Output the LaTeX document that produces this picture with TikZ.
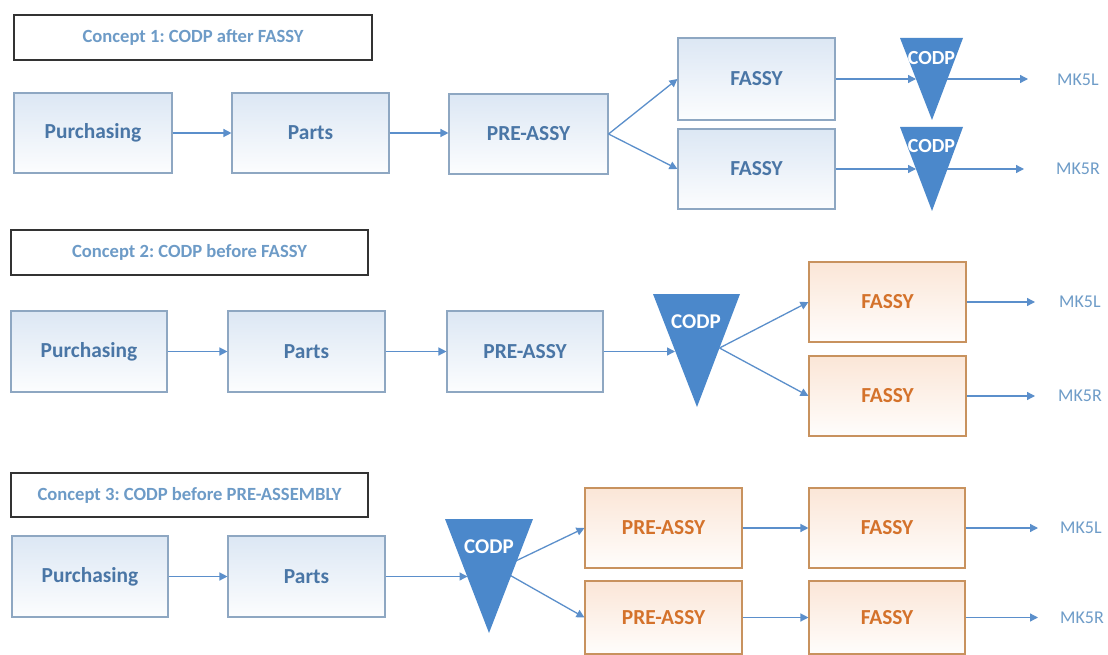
\documentclass[tikz,border=0pt]{standalone}
\usepackage{fontspec}
\setmainfont{Carlito}
\frenchspacing
\usetikzlibrary{arrows.meta,calc}

\definecolor{bborder}{HTML}{8EA7C2}
\definecolor{btint}{HTML}{DCE7F4}
\definecolor{btext}{HTML}{4A76A6}
\definecolor{oborder}{HTML}{C8925E}
\definecolor{otint}{HTML}{FBE6D7}
\definecolor{otext}{HTML}{D4722B}
\definecolor{ttext}{HTML}{6D9BC7}
\definecolor{tborder}{HTML}{333333}
\definecolor{flowblue}{HTML}{5B8FCB}
\definecolor{triblue}{HTML}{4B88CB}
\definecolor{mktext}{HTML}{6E9CC8}

% node shadings follow the page, so "top color" is the upper edge of a box
\tikzset{
  box/.style={draw=bborder, line width=1.1pt, minimum width=157pt, minimum height=80pt,
    inner sep=0pt, text=btext, font=\bfseries\fontsize{21.4}{24}\selectfont,
    top color=btint, middle color=white, bottom color=white!92!btint},
  obox/.style={box, draw=oborder, text=otext,
    top color=otint, middle color=white, bottom color=white!92!otint},
  titlebox/.style={draw=tborder, line width=1.5pt, minimum width=357pt, minimum height=45pt,
    inner sep=0pt, fill=white, text=ttext, font=\bfseries\fontsize{18.6}{22}\selectfont},
  flow/.style={draw=flowblue, line width=1.3pt, -{Triangle[length=8pt,width=8pt]}},
  tri/.style={fill=triblue},
  codp/.style={text=white, inner sep=0pt, font=\bfseries\fontsize{21}{24}\selectfont},
  mk/.style={text=mktext, inner sep=0pt, anchor=west, font=\fontsize{18}{21}\selectfont},
}

\begin{document}
\begin{tikzpicture}[x=1pt,y=-1pt]
\useasboundingbox (0,0) rectangle (1108,655);
\fill[white] (0,0) rectangle (1108,655);

% ---------------- Concept 1 ----------------
\node[titlebox, minimum width=358pt] (t1) at (193,37.5) {Concept 1: CODP after FASSY};

\node[box, minimum width=158pt] (p1) at (93,133) {Purchasing};
\node[box] (a1) at (310.5,133) {Parts};
\node[box, minimum width=159pt] (r1) at (528.5,134) {PRE-ASSY};
\node[box, minimum height=82pt] (f1u) at (756.5,79) {FASSY};
\node[box] (f1l) at (756.5,169) {FASSY};

% decoupling points after final assembly
\fill[tri] (900,38) -- (963,38) -- (932,120) -- cycle;
\fill[tri] (900,127) -- (963,127) -- (932,211) -- cycle;
\node[codp, font=\bfseries\fontsize{20}{24}\selectfont] (c1u) at (931.5,58) {CODP};
\node[codp, font=\bfseries\fontsize{20}{24}\selectfont] (c1l) at (931.5,146) {CODP};
\coordinate (c1uin) at (916,79);
\coordinate (c1uout) at (947,79);
\coordinate (c1lin) at (916,169);
\coordinate (c1lout) at (947,169);

\node[mk] (m1u) at (1057,80) {MK5L};
\node[mk] (m1l) at (1056,169) {MK5R};

\draw[flow] (p1.east) -- (a1.west);
\draw[flow] (a1.east) -- (r1.west |- a1.east);
\draw[flow] (r1.east) -- (f1u.west);
\draw[flow] (r1.east) -- (f1l.west);
\draw[flow] (f1u.east) -- (c1uin);
\draw[flow] (f1l.east) -- (c1lin);
\draw[flow, shorten >=29pt] (c1uout) -- (m1u.west |- c1uout);
\draw[flow, shorten >=32pt] (c1lout) -- (m1l.west |- c1lout);

% ---------------- Concept 2 ----------------
\node[titlebox] (t2) at (189.5,252.5) {Concept 2: CODP before FASSY};

\node[box, minimum width=156pt, minimum height=81pt] (p2) at (89,351.5) {Purchasing};
\node[box, minimum height=81pt] (a2) at (306.5,351.5) {Parts};
\node[box, minimum width=156pt, minimum height=81pt] (r2) at (525,351.5) {PRE-ASSY};
\node[obox] (f2u) at (887.5,302) {FASSY};
\node[obox] (f2l) at (887.5,396) {FASSY};

% decoupling point before final assembly
\fill[tri] (653,294) -- (740,294) -- (697,407) -- cycle;
\node[codp] (c2) at (696,322) {CODP};
\coordinate (c2in) at (675,351.5);
\coordinate (c2out) at (719.5,348);

\node[mk] (m2u) at (1059,302) {MK5L};
\node[mk] (m2l) at (1058,396) {MK5R};

\draw[flow] (p2.east) -- (a2.west);
\draw[flow] (a2.east) -- (r2.west);
\draw[flow] (r2.east) -- (c2in);
\draw[flow] (c2out) -- (f2u.west);
\draw[flow] (c2out) -- (f2l.west);
\draw[flow, shorten >=24pt] (f2u.east) -- (m2u.west |- f2u.east);
\draw[flow, shorten >=23pt] (f2l.east) -- (m2l.west |- f2l.east);

% ---------------- Concept 3 ----------------
\node[titlebox, minimum height=44pt] (t3) at (189.5,495) {Concept 3: CODP before PRE-ASSEMBLY};

\node[box, minimum width=156pt, minimum height=81pt] (p3) at (90,576.5) {Purchasing};
\node[box, minimum height=81pt] (a3) at (306.5,576.5) {Parts};
\node[obox] (r3u) at (663.5,528) {PRE-ASSY};
\node[obox, minimum height=73pt] (r3l) at (663.5,617.5) {PRE-ASSY};
\node[obox, minimum width=156pt] (f3u) at (887,528) {FASSY};
\node[obox, minimum width=156pt, minimum height=73pt] (f3l) at (887,617.5) {FASSY};

\coordinate (c3in) at (467.5,576.5);
\coordinate (c3fork) at (499,569);

\node[mk] (m3u) at (1060,528) {MK5L};
\node[mk] (m3l) at (1060,618) {MK5R};

\draw[flow] (p3.east) -- (a3.west);
\draw[flow] (a3.east) -- (c3in);
\draw[flow] (c3fork) -- (r3u.west);
\draw[flow] (c3fork) -- (r3l.west);
\draw[flow] (r3u.east) -- (f3u.west);
\draw[flow] (r3l.east) -- (f3l.west);
\draw[flow, shorten >=22pt] (f3u.east) -- (m3u.west |- f3u.east);
\draw[flow, shorten >=22pt] (f3l.east) -- (m3l.west |- f3l.east);

% decoupling point before pre-assembly, drawn over the fork
\fill[tri] (445,519) -- (533,519) -- (489,633) -- cycle;
\node[codp] (c3) at (489,547) {CODP};

\end{tikzpicture}
\end{document}
